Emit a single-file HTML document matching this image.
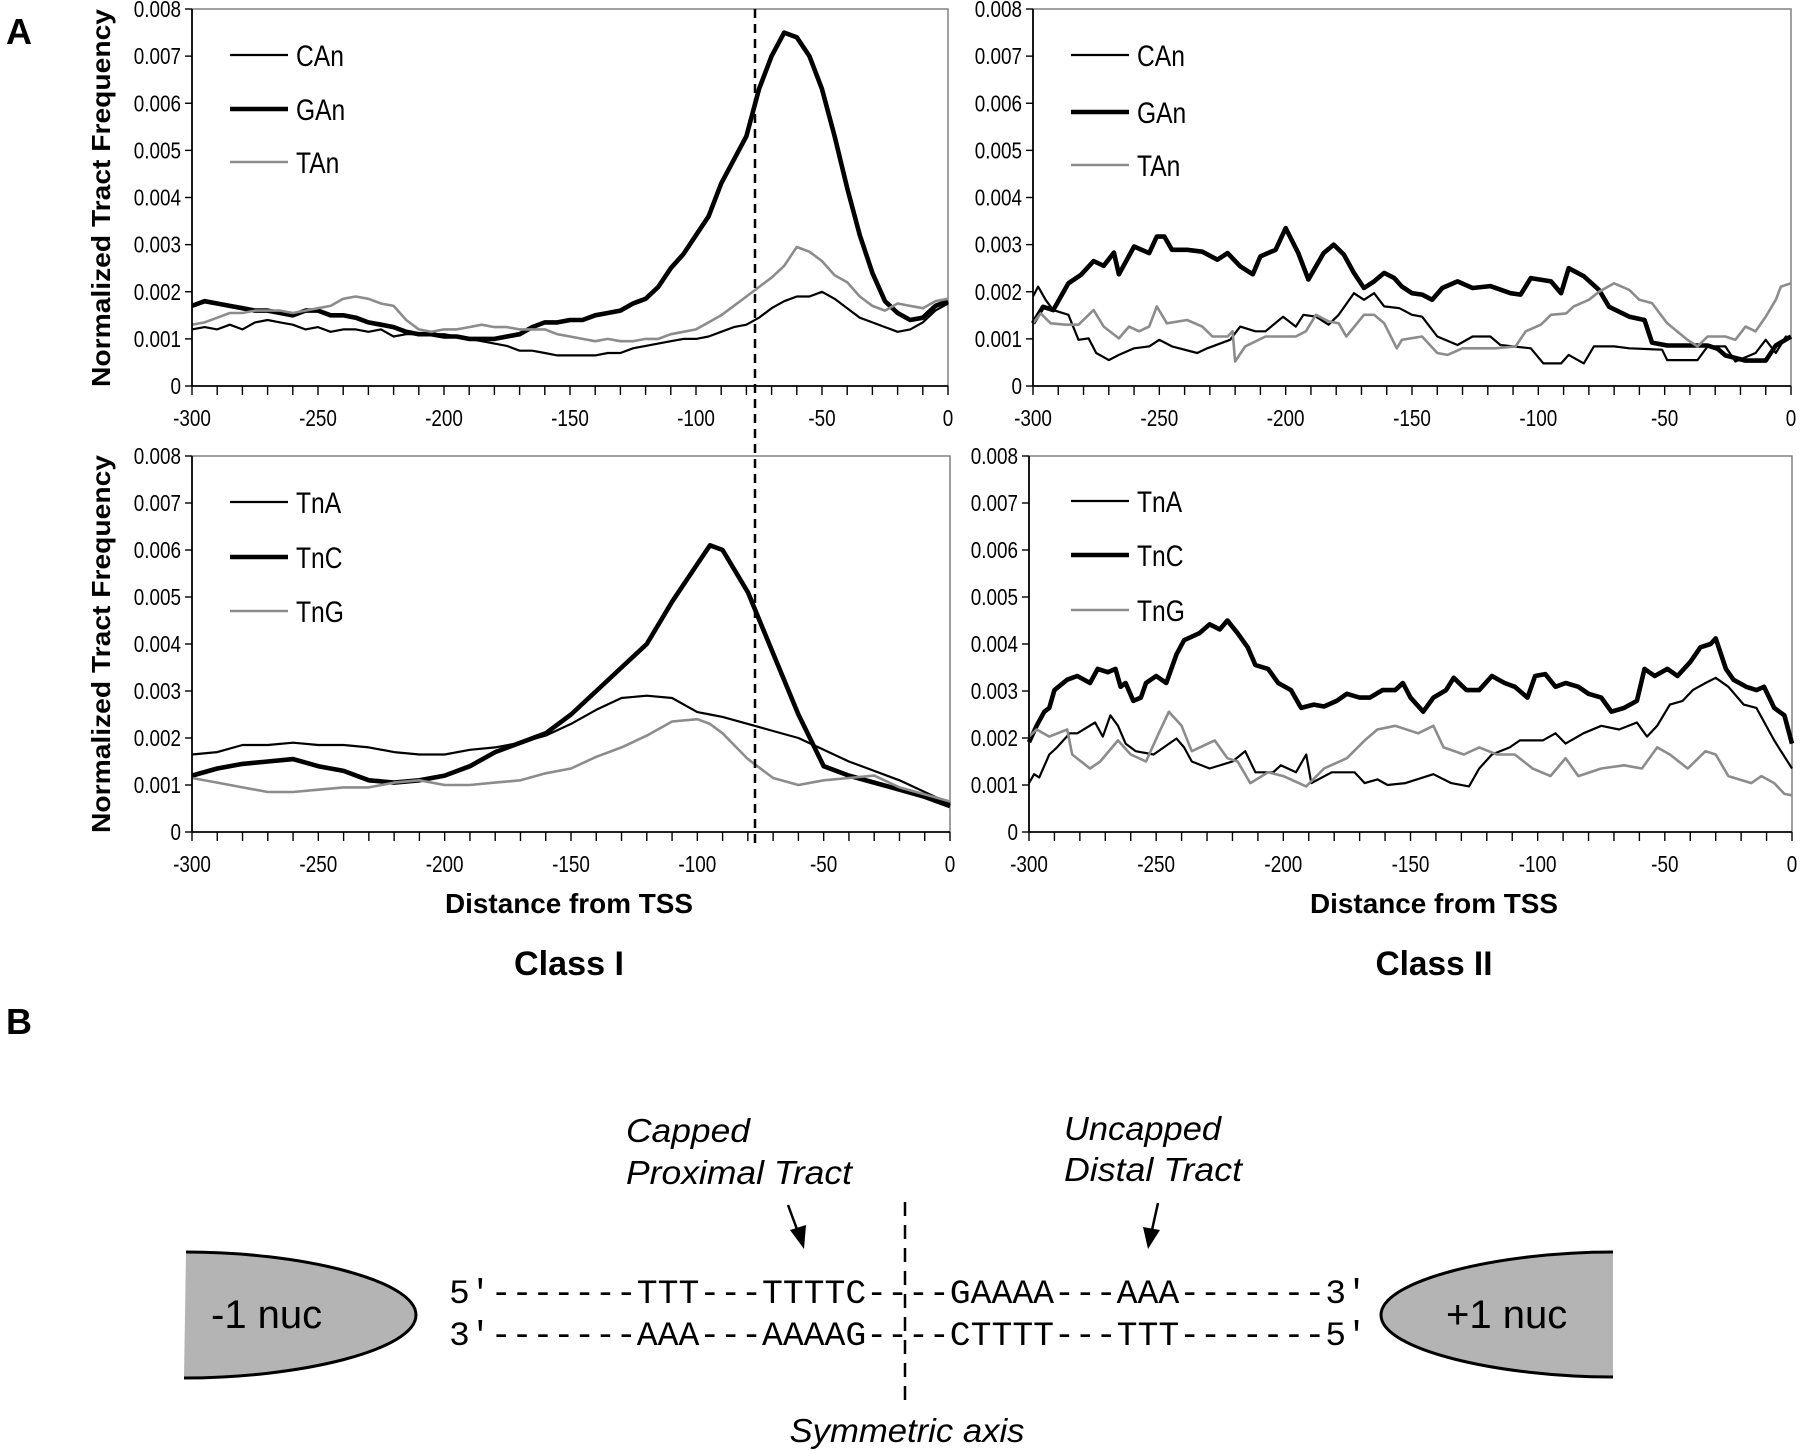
<!DOCTYPE html>
<html><head><meta charset="utf-8"><style>
html,body{margin:0;padding:0;background:#fff;}
svg{display:block;}
.tick{font-family:"Liberation Sans Narrow","Liberation Sans",sans-serif;font-size:23px;fill:#000;}
.leg{font-family:"Liberation Sans Narrow","Liberation Sans",sans-serif;font-size:30px;fill:#000;}
.bold{font-family:"Liberation Sans",sans-serif;font-weight:bold;fill:#000;}
.ital{font-family:"Liberation Sans",sans-serif;font-style:italic;font-size:33px;fill:#000;}
.mono{font-family:"Liberation Mono",monospace;font-size:34px;fill:#000;}
</style></head><body>
<svg id="fig" width="1800" height="1451" viewBox="0 0 1800 1451" xmlns="http://www.w3.org/2000/svg">
<rect width="1800" height="1451" fill="#fff"/>
<text class="bold" x="6" y="44" font-size="36">A</text>
<text class="bold" x="6" y="1034" font-size="36">B</text>
<text class="bold" x="0" y="0" font-size="26" transform="translate(110,198) rotate(-90)" text-anchor="middle" textLength="378" lengthAdjust="spacingAndGlyphs">Normalized Tract Frequency</text>
<text class="bold" x="0" y="0" font-size="26" transform="translate(110,644) rotate(-90)" text-anchor="middle" textLength="378" lengthAdjust="spacingAndGlyphs">Normalized Tract Frequency</text>
<text class="bold" x="569" y="913" font-size="28" text-anchor="middle" textLength="248" lengthAdjust="spacingAndGlyphs">Distance from TSS</text>
<text class="bold" x="1434" y="913" font-size="28" text-anchor="middle" textLength="248" lengthAdjust="spacingAndGlyphs">Distance from TSS</text>
<text class="bold" x="569" y="975" font-size="34" text-anchor="middle" textLength="110" lengthAdjust="spacingAndGlyphs">Class I</text>
<text class="bold" x="1434" y="975" font-size="34" text-anchor="middle" textLength="117" lengthAdjust="spacingAndGlyphs">Class II</text>
<g id="charts"></g>
<line x1="755" y1="9" x2="755" y2="846" stroke="#000" stroke-width="2.5" stroke-dasharray="9,6"/>

<g>
<path d="M186,1252 C300,1252 416,1280 416,1315 C416,1350 300,1378 184,1378 Z" fill="#b4b4b4" stroke="none"/>
<path d="M186,1252 C300,1252 416,1280 416,1315 C416,1350 300,1378 184,1378" fill="none" stroke="#000" stroke-width="3"/>
<text x="211" y="1328" font-family="Liberation Sans,sans-serif" font-size="40">-1 nuc</text>
<path d="M1613,1252 C1500,1252 1381,1280 1381,1315 C1381,1350 1500,1377 1613,1377 Z" fill="#b4b4b4"/>
<path d="M1613,1252 C1500,1252 1381,1280 1381,1315 C1381,1350 1500,1377 1613,1377" fill="none" stroke="#000" stroke-width="3"/>
<text x="1446" y="1328" font-family="Liberation Sans,sans-serif" font-size="40">+1 nuc</text>
<text class="mono" x="449" y="1303" textLength="918" lengthAdjust="spacingAndGlyphs">5′-------TTT---TTTTC----GAAAA---AAA-------3′</text>
<text class="mono" x="449" y="1345" textLength="918" lengthAdjust="spacingAndGlyphs">3′-------AAA---AAAAG----CTTTT---TTT-------5′</text>
<line x1="905" y1="1202" x2="905" y2="1405" stroke="#000" stroke-width="2.5" stroke-dasharray="14,9"/>
<text class="ital" x="907" y="1442" text-anchor="middle" textLength="235" lengthAdjust="spacingAndGlyphs">Symmetric axis</text>
<text class="ital" x="626" y="1142" textLength="124" lengthAdjust="spacingAndGlyphs">Capped</text>
<text class="ital" x="626" y="1184" textLength="226" lengthAdjust="spacingAndGlyphs">Proximal Tract</text>
<text class="ital" x="1064" y="1140" textLength="157" lengthAdjust="spacingAndGlyphs">Uncapped</text>
<text class="ital" x="1064" y="1181" textLength="178" lengthAdjust="spacingAndGlyphs">Distal Tract</text>
<line x1="788" y1="1205" x2="798" y2="1232" stroke="#000" stroke-width="2.5"/>
<polygon points="804,1249 790,1230 806,1225" fill="#000"/>
<line x1="1158" y1="1203" x2="1152" y2="1230" stroke="#000" stroke-width="2.5"/>
<polygon points="1148,1249 1143,1227 1160,1230" fill="#000"/>
</g>
</svg>
<script>
const xTicks = [-300,-250,-200,-150,-100,-50,0];
const xTickLabels = ["-300","-250","-200","-150","-100","-50","0"];
const yTicks = [0,1,2,3,4,5,6,7,8];
const yTickLabels = ["0","0.001","0.002","0.003","0.004","0.005","0.006","0.007","0.008"];

const c1TopX = [-300,-295,-290,-285,-280,-275,-270,-265,-260,-255,-250,-245,-240,-235,-230,-225,-220,-215,-210,-205,-200,-195,-190,-185,-180,-175,-170,-165,-160,-155,-150,-145,-140,-135,-130,-125,-120,-115,-110,-105,-100,-95,-90,-85,-80,-75,-70,-65,-60,-55,-50,-45,-40,-35,-30,-25,-20,-15,-10,-5,0];
const c1CAn = [1.2,1.25,1.2,1.3,1.2,1.35,1.4,1.35,1.3,1.2,1.25,1.15,1.2,1.2,1.15,1.2,1.05,1.1,1.1,1.1,1.1,1.05,1.0,0.95,0.9,0.85,0.75,0.75,0.7,0.65,0.65,0.65,0.65,0.7,0.7,0.8,0.85,0.9,0.95,1.0,1.0,1.05,1.15,1.25,1.3,1.45,1.65,1.8,1.9,1.9,2.0,1.85,1.65,1.45,1.35,1.25,1.15,1.2,1.35,1.6,1.75];
const c1GAn = [1.7,1.8,1.75,1.7,1.65,1.6,1.6,1.55,1.5,1.6,1.6,1.5,1.5,1.45,1.35,1.3,1.25,1.15,1.1,1.1,1.05,1.05,1.0,1.0,1.0,1.05,1.1,1.25,1.35,1.35,1.4,1.4,1.5,1.55,1.6,1.75,1.85,2.1,2.5,2.8,3.2,3.6,4.3,4.8,5.3,6.3,7.0,7.5,7.4,7.0,6.3,5.3,4.2,3.2,2.4,1.8,1.55,1.4,1.45,1.7,1.8];
const c1TAn = [1.3,1.35,1.45,1.55,1.55,1.6,1.6,1.6,1.55,1.6,1.65,1.7,1.85,1.9,1.85,1.75,1.7,1.4,1.2,1.15,1.2,1.2,1.25,1.3,1.25,1.25,1.2,1.2,1.2,1.1,1.05,1.0,0.95,1.0,0.95,0.95,1.0,1.0,1.1,1.15,1.2,1.35,1.5,1.7,1.9,2.1,2.3,2.55,2.95,2.85,2.65,2.35,2.2,1.9,1.7,1.6,1.75,1.7,1.65,1.8,1.85];

const c2GAnX = [-300,-296,-292,-286,-281,-276,-272,-268,-266,-260,-254,-251,-248,-245,-239,-233,-227,-223,-218,-213,-210,-204,-200,-195,-191,-188,-185,-181,-177,-173,-169,-165,-161,-157,-154,-150,-146,-142,-138,-132,-126,-119,-111,-107,-103,-95,-91,-88,-82,-76,-72,-64,-58,-55,-49,-41,-33,-29,-26,-18,-10,-6,0];
const c2GAn = [1.33,1.68,1.61,2.18,2.36,2.65,2.55,2.83,2.37,2.96,2.82,3.17,3.17,2.89,2.89,2.85,2.68,2.82,2.54,2.37,2.75,2.89,3.35,2.82,2.26,2.54,2.82,3.0,2.79,2.4,2.08,2.22,2.4,2.29,2.11,1.97,1.94,1.83,2.08,2.22,2.08,2.12,1.97,1.94,2.29,2.22,1.97,2.5,2.33,2.04,1.68,1.47,1.4,0.92,0.86,0.86,0.86,0.79,0.65,0.54,0.54,0.86,1.05];
const c2CAnX = [-300,-298,-295,-292,-286,-282,-278,-275,-270,-266,-260,-254,-250,-245,-235,-231,-222,-218,-212,-208,-201,-196,-193,-188,-183,-179,-173,-169,-165,-161,-155,-150,-146,-140,-132,-126,-119,-115,-103,-98,-91,-88,-82,-78,-70,-64,-51,-49,-37,-33,-26,-22,-14,-10,-6,-2,0];
const c2CAn = [1.9,2.11,1.83,1.61,1.51,0.98,1.01,0.7,0.55,0.66,0.8,0.84,0.98,0.84,0.7,0.8,0.98,1.26,1.16,1.16,1.47,1.26,1.51,1.47,1.3,1.51,1.97,1.83,1.97,1.69,1.65,1.51,1.47,1.05,0.87,1.05,1.05,0.87,0.8,0.48,0.48,0.66,0.48,0.84,0.84,0.8,0.77,0.55,0.55,0.84,0.84,0.52,0.7,0.98,0.7,1.05,1.01];
const c2TAnX = [-300,-297,-293,-287,-282,-276,-272,-266,-262,-258,-254,-251,-247,-239,-233,-229,-223,-221,-220,-216,-208,-196,-192,-188,-183,-179,-176,-169,-165,-161,-156,-154,-146,-140,-136,-130,-117,-109,-105,-99,-95,-89,-86,-80,-76,-70,-64,-60,-55,-49,-41,-37,-33,-26,-22,-18,-14,-10,-6,-4,0];
const c2TAn = [1.33,1.54,1.33,1.3,1.3,1.61,1.26,1.01,1.26,1.16,1.26,1.69,1.33,1.4,1.26,1.05,1.05,1.16,0.52,0.84,1.05,1.05,1.16,1.51,1.37,1.33,1.05,1.51,1.51,1.33,0.8,0.98,1.05,0.7,0.66,0.8,0.8,0.84,1.16,1.3,1.51,1.54,1.69,1.83,2.0,2.18,2.04,1.83,1.76,1.33,0.98,0.84,1.05,1.05,0.98,1.26,1.16,1.47,1.83,2.11,2.18];

const c1BotX = [-300,-290,-280,-270,-260,-250,-240,-230,-220,-210,-200,-190,-180,-170,-160,-150,-140,-130,-120,-110,-100,-95,-90,-80,-70,-60,-50,-40,-30,-20,-10,0];
const c1TnA = [1.65,1.7,1.85,1.85,1.9,1.85,1.85,1.8,1.7,1.65,1.65,1.75,1.8,1.9,2.05,2.3,2.6,2.85,2.9,2.85,2.55,2.5,2.45,2.3,2.15,2.0,1.75,1.5,1.3,1.1,0.85,0.6];
const c1TnC = [1.2,1.35,1.45,1.5,1.55,1.4,1.3,1.1,1.05,1.1,1.2,1.4,1.7,1.9,2.1,2.5,3.0,3.5,4.0,4.9,5.7,6.1,6.0,5.1,3.8,2.5,1.4,1.2,1.05,0.9,0.75,0.55];
const c1TnG = [1.15,1.05,0.95,0.85,0.85,0.9,0.95,0.95,1.05,1.1,1.0,1.0,1.05,1.1,1.25,1.35,1.6,1.8,2.05,2.35,2.4,2.3,2.1,1.55,1.15,1.0,1.1,1.15,1.2,0.95,0.8,0.65];

const c2TnCX = [-300,-297,-294,-292,-290,-285,-281,-276,-273,-269,-266,-264,-262,-259,-256,-254,-250,-246,-242,-239,-233,-229,-225,-222,-218,-214,-211,-206,-202,-197,-193,-188,-184,-179,-175,-170,-166,-161,-156,-153,-150,-145,-141,-136,-133,-128,-123,-118,-113,-109,-104,-101,-97,-93,-89,-84,-80,-75,-71,-66,-61,-58,-54,-49,-45,-40,-36,-32,-30,-26,-23,-18,-14,-11,-7,-3,0];
const c2TnC = [1.91,2.26,2.56,2.64,3.02,3.24,3.32,3.17,3.47,3.4,3.47,3.09,3.17,2.79,2.86,3.17,3.32,3.17,3.78,4.08,4.23,4.42,4.31,4.5,4.23,3.93,3.55,3.47,3.17,3.02,2.64,2.71,2.67,2.79,2.94,2.86,2.86,3.02,3.02,3.17,2.86,2.56,2.86,3.02,3.28,3.02,3.02,3.32,3.17,3.09,2.86,3.32,3.36,3.09,3.17,3.09,2.94,2.86,2.56,2.64,2.79,3.47,3.32,3.47,3.32,3.62,3.93,4.0,4.12,3.47,3.24,3.09,3.02,3.09,2.64,2.48,1.88];
const c2TnAX = [-300,-298,-296,-292,-289,-284,-281,-274,-271,-268,-265,-262,-258,-251,-247,-242,-239,-236,-229,-220,-215,-211,-204,-201,-195,-191,-189,-181,-172,-168,-163,-159,-152,-141,-134,-127,-123,-118,-111,-107,-98,-93,-89,-82,-75,-68,-61,-57,-53,-48,-43,-39,-34,-30,-25,-19,-14,-7,0];
const c2TnA = [1.04,1.23,1.16,1.65,1.8,2.1,2.1,2.33,2.03,2.48,2.26,1.88,1.72,1.65,1.8,1.99,1.8,1.5,1.35,1.5,1.72,1.27,1.27,1.42,1.27,1.65,1.04,1.27,1.27,1.04,1.12,1.0,1.04,1.23,1.04,0.97,1.35,1.65,1.8,1.95,1.95,2.1,1.88,2.1,2.26,2.18,2.33,2.03,2.26,2.71,2.79,3.02,3.17,3.28,3.09,2.71,2.64,1.95,1.35];
const c2TnGX = [-300,-297,-292,-285,-283,-276,-272,-265,-260,-254,-249,-245,-240,-236,-227,-222,-218,-213,-206,-200,-191,-184,-175,-168,-163,-156,-147,-141,-137,-129,-123,-116,-109,-102,-95,-89,-84,-75,-66,-59,-53,-48,-41,-34,-30,-25,-16,-12,-7,-3,0];
const c2TnG = [2.03,2.18,2.03,2.18,1.65,1.35,1.5,1.95,1.65,1.5,2.1,2.56,2.26,1.72,1.95,1.57,1.5,1.04,1.27,1.19,0.97,1.35,1.57,1.95,2.18,2.26,2.1,2.26,1.8,1.65,1.8,1.65,1.65,1.35,1.19,1.57,1.19,1.35,1.42,1.35,1.8,1.65,1.35,1.72,1.65,1.19,1.04,1.19,1.04,0.81,0.78];

const NS = "http://www.w3.org/2000/svg";
const root = document.getElementById('charts');
function mk(tag, attrs, parent){
  const e = document.createElementNS(NS, tag);
  for (const k in attrs) e.setAttribute(k, attrs[k]);
  (parent||root).appendChild(e);
  return e;
}
function narrow(t){
  const w = t.getComputedTextLength();
  if (w > 0) { t.setAttribute('textLength', (w * 0.82).toFixed(1)); t.setAttribute('lengthAdjust', 'spacingAndGlyphs'); }
}
const STY = {
  thin: {stroke:'#000', w:2.2},
  thick:{stroke:'#000', w:4.6},
  gray: {stroke:'#8c8c8c', w:2.6}
};
const panels = [
  {id:'class1-top', x0:192, x1:948, yT:9, yB:386, legY:[55,109,162], legX:230,
   series:[['CAn',c1TopX,c1CAn,'thin'],['GAn',c1TopX,c1GAn,'thick'],['TAn',c1TopX,c1TAn,'gray']]},
  {id:'class2-top', x0:1033, x1:1791, yT:9, yB:386, legY:[55,112,165], legX:1071,
   series:[['CAn',c2CAnX,c2CAn,'thin'],['GAn',c2GAnX,c2GAn,'thick'],['TAn',c2TAnX,c2TAn,'gray']]},
  {id:'class1-bottom', x0:192, x1:950, yT:456, yB:832, legY:[502,557,611], legX:230,
   series:[['TnA',c1BotX,c1TnA,'thin'],['TnC',c1BotX,c1TnC,'thick'],['TnG',c1BotX,c1TnG,'gray']]},
  {id:'class2-bottom', x0:1029, x1:1792, yT:456, yB:832, legY:[501,555,610], legX:1071,
   series:[['TnA',c2TnAX,c2TnA,'thin'],['TnC',c2TnCX,c2TnC,'thick'],['TnG',c2TnGX,c2TnG,'gray']]}
];
panels.forEach(p => {
  const g = mk('g', {});
  
  
  const xs = v => p.x0 + (v + 300) / 300 * (p.x1 - p.x0);
  const ys = v => p.yB - v / 8 * (p.yB - p.yT);
  mk('path', {d:`M${p.x0},${p.yT} H${p.x1} V${p.yB}`, fill:'none', stroke:'#808080', 'stroke-width':1.5}, g);
  p.series.forEach(s => {
    const [name, X, Y, sty] = s;
    let d = '';
    for (let i = 0; i < X.length; i++) d += (i ? 'L' : 'M') + xs(X[i]).toFixed(1) + ',' + ys(Y[i]).toFixed(1);
    const pl = mk('path', {d:d, fill:'none', stroke:STY[sty].stroke, 'stroke-width':STY[sty].w, 'stroke-linejoin':'round'}, g);
    
    
  });
  mk('line', {x1:p.x0, y1:p.yT, x2:p.x0, y2:p.yB, stroke:'#000', 'stroke-width':1.8}, g);
  mk('line', {x1:p.x0, y1:p.yB, x2:p.x1, y2:p.yB, stroke:'#000', 'stroke-width':1.8}, g);
  for (let v = -300; v <= 0; v += 10) {
    mk('line', {x1:xs(v), y1:p.yB, x2:xs(v), y2:p.yB + 9, stroke:'#000', 'stroke-width':1.4}, g);
  }
  xTicks.forEach((v, i) => {
    const t = mk('text', {x:xs(v), y:p.yB + 40, 'text-anchor':'middle', class:'tick'}, g);
    t.textContent = xTickLabels[i];
    
    
    narrow(t);
  });
  yTicks.forEach((v, i) => {
    mk('line', {x1:p.x0 - 7, y1:ys(v), x2:p.x0, y2:ys(v), stroke:'#000', 'stroke-width':1.4}, g);
    const t = mk('text', {x:p.x0 - 11, y:ys(v) + 8, 'text-anchor':'end', class:'tick'}, g);
    t.textContent = yTickLabels[i];
    
    
    narrow(t);
  });
  p.series.forEach((s, i) => {
    const y = p.legY[i];
    const lg = mk('g', {}, g);
    
    
    mk('line', {x1:p.legX, y1:y, x2:p.legX + 58, y2:y, stroke:STY[s[3]].stroke, 'stroke-width':STY[s[3]].w}, lg);
    const t = mk('text', {x:p.legX + 66, y:y + 11, class:'leg'}, lg);
    t.textContent = s[0];
    narrow(t);
  });
});
</script>
</body></html>
